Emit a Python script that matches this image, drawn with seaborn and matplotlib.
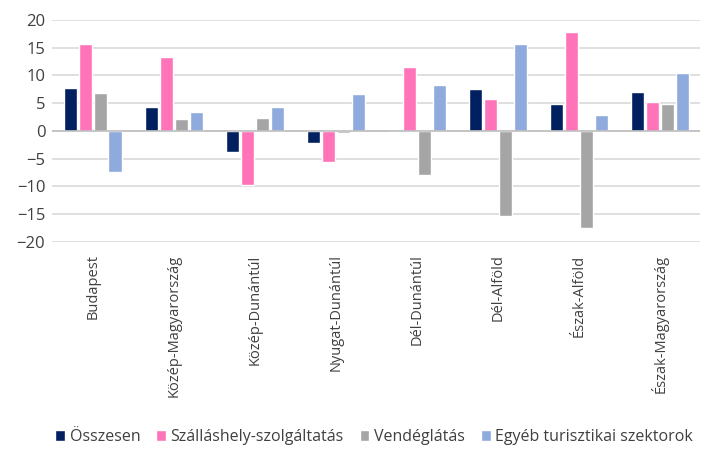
import pandas as pd
import matplotlib.pyplot as plt
import seaborn as sns

regions = ['Budapest', 'Közép-Magyarország', 'Közép-Dunántúl', 'Nyugat-Dunántúl',
           'Dél-Dunántúl', 'Dél-Alföld', 'Észak-Alföld', 'Észak-Magyarország']
osszesen = [7.8, 4.4, -3.7, -2.1, 0.0, 7.6, 4.8, 7.1]
szallas = [15.6, 13.3, -9.7, -5.5, 11.5, 5.8, 17.8, 5.3]
vendeg = [6.9, 2.2, 2.3, -0.3, -7.9, -15.3, -17.5, 4.9]
egyeb = [-7.4, 3.5, 4.3, 6.7, 8.3, 15.6, 2.8, 10.4]
series = ['Összesen', 'Szálláshely-szolgáltatás', 'Vendéglátás', 'Egyéb turisztikai szektorok']
colors = ['#002060', '#FF73B9', '#A5A5A5', '#8FAADC']

df = pd.DataFrame({'region': regions * 4,
                   'value': osszesen + szallas + vendeg + egyeb,
                   'series': [s for s in series for _ in regions]})

sns.set_style("white")
plt.rcParams['font.family'] = ['Open Sans', 'DejaVu Sans']

fig = plt.figure(figsize=(7.06, 4.54), dpi=100)
ax = fig.add_axes([0.074, 0.467, 0.918, 0.489])

sns.barplot(data=df, x='region', y='value', hue='series', palette=colors,
            saturation=1, width=0.74, gap=0.1, ax=ax, legend=True)

ax.set_ylim(-20, 20)
ax.set_yticks(range(-20, 21, 5))
ax.set_xlim(-0.5, len(regions) - 0.5)
ax.yaxis.grid(True, color='#D9D9D9', linewidth=1.2)
ax.set_axisbelow(True)
ax.axhline(0, color='#BFBFBF', linewidth=1.2, zorder=1)
for s in ax.spines.values():
    s.set_visible(False)
ax.set_xlabel('')
ax.set_ylabel('')
ax.tick_params(axis='both', length=0, labelsize=12, colors='#404040', pad=5)
ax.tick_params(axis='x', pad=9)
plt.setp(ax.get_xticklabels(), rotation=90, fontsize=10.5)

handles, labels = ax.get_legend_handles_labels()
ax.legend_.remove()
fig.legend(handles, labels, loc='lower center', bbox_to_anchor=(0.53, -0.012), ncol=4,
           frameon=False, fontsize=11.5, handlelength=0.6, handleheight=0.6,
           handletextpad=0.3, columnspacing=1.0, labelcolor='#404040')

fig.savefig('out.png', dpi=100, facecolor='white')
